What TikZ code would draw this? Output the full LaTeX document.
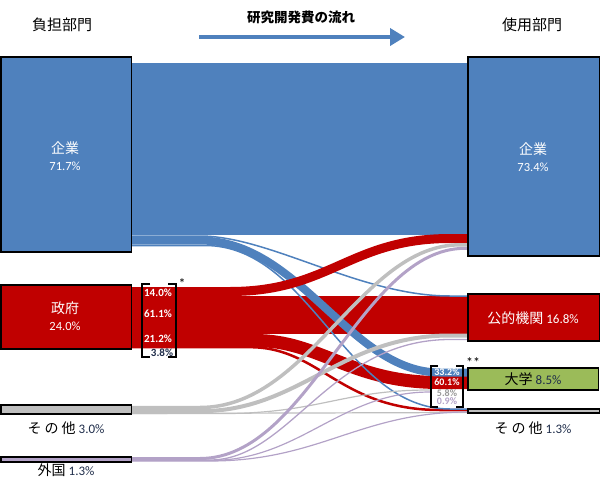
\documentclass[tikz,border=0pt]{standalone}
\usepackage{fontspec}
\newfontfamily\jp{Noto Sans CJK JP}
\newfontfamily\numf{Carlito}
\usetikzlibrary{arrows.meta}
\definecolor{cblue}{HTML}{4F81BD}
\definecolor{cred}{HTML}{C00000}
\definecolor{cgray}{HTML}{BFBFBF}
\definecolor{clav}{HTML}{B3A2C7}
\definecolor{cgreen}{HTML}{9BBB59}
\definecolor{cnavy}{HTML}{1F2D4A}
\newcommand\pcnt[1]{{\numf\fontsize{13}{13}\selectfont #1}}
\begin{document}
\begin{tikzpicture}[x=1pt,y=-1pt,
    box/.style={draw=black, line width=1.5pt},
    brk/.style={draw=black, line width=1.5pt},
    head/.style={font=\jp\fontsize{15}{15}\selectfont},
    lbl/.style={font=\jp\fontsize{14}{14}\selectfont, inner sep=0pt},
    num/.style={font=\numf\fontsize{12.5}{12.5}\selectfont, inner sep=0pt},
    share/.style={font=\numf\bfseries\fontsize{11}{11}\selectfont, inner sep=0pt, text height=7pt, text depth=0pt},
    ushare/.style={font=\numf\bfseries\fontsize{10}{10}\selectfont, inner sep=0pt, text height=6.5pt, text depth=0pt}]
    \useasboundingbox (0,0) rectangle (600,482);

    % headings and arrow
    \node[head] (hl) at (62,25) {負担部門};
    \node[head] (hr) at (532,25) {使用部門};
    \node[font=\jp\bfseries\fontsize{13.5}{13.5}\selectfont] (hm) at (301,17) {研究開発費の流れ};
    \draw[cblue, line width=4pt, -{Triangle[length=15pt,width=17pt]}] (199,37) -- (405,37);

    % flows
    \fill[cblue] (132,63) rectangle (468,235);
    \fill[cred] (132,296) rectangle (468,334);
    \draw[cred, line width=13pt] (132,340.5) -- (255,340.5) .. controls (320,340.5) and (350,382.5) .. (440,382.5) -- (468,382.5);
    \draw[cred, line width=2.5pt] (132,347.2) -- (250,347.2) .. controls (320,347.2) and (340,410) .. (440,410) -- (468,410);
    \draw[cblue, line width=1.5pt] (132,236) -- (200,236) .. controls (270,236) and (360,296) .. (450,296) -- (468,296);
    \draw[cblue, line width=8pt] (132,240.5) -- (200,240.5) .. controls (300,240.5) and (350,372.5) .. (440,372.5) -- (468,372.5);
    \draw[cblue, line width=1.5pt] (132,245.5) -- (205,245.5) .. controls (310,245.5) and (345,409) .. (450,409) -- (468,409);
    \draw[cred, line width=9pt] (132,291.5) -- (230,291.5) .. controls (330,291.5) and (350,238.5) .. (450,238.5) -- (468,238.5);
    \draw[cgray, line width=3.5pt] (132,407.5) -- (200,407.5) .. controls (310,407.5) and (360,244.8) .. (460,244.8) -- (468,244.8);
    \draw[cgray, line width=4pt] (132,411.2) -- (200,411.2) .. controls (300,411.2) and (340,335.5) .. (450,335.5) -- (468,335.5);
    \draw[cgray, line width=1.2pt] (132,413.6) -- (220,413.6) .. controls (320,413.6) and (340,390) .. (430,390);
    \draw[cgray, line width=1.2pt] (132,413.5) -- (468,412.5);
    \draw[clav, line width=3pt] (132,458.5) -- (200,458.5) .. controls (310,458.5) and (360,248.3) .. (465,248.3) -- (468,248.3);
    \draw[clav, line width=1.3pt] (132,460) -- (210,460) .. controls (290,460) and (330,339.5) .. (450,339.5) -- (468,339.5);
    \draw[clav, line width=1.2pt] (132,460.5) -- (210,460.5) .. controls (300,460.5) and (340,392) .. (430,392);
    \draw[clav, line width=1.2pt] (132,461) -- (210,461) .. controls (320,461) and (360,412) .. (468,412);

    % left boxes
    \draw[box, fill=cblue] (0.75,57) rectangle (131.5,252);
    \draw[box, fill=cred] (0.75,285) rectangle (131.5,349);
    \draw[box, fill=cgray] (0.75,405) rectangle (131.5,414);
    \draw[box, fill=clav] (0.75,457) rectangle (131.5,462);
    % right boxes
    \draw[box, fill=cblue] (468,57) rectangle (599.25,256);
    \draw[box, fill=cred] (468,294) rectangle (599.25,341);
    \draw[box, fill=cgreen] (468,368) rectangle (598.5,390);
    \draw[box, fill=cgray] (468,409) rectangle (599.25,413);

    % box labels
    \node[lbl, text=white] (lco) at (65,148) {企業};
    \node[num, text=white] (lcop) at (65,166) {71.7\%};
    \node[lbl, text=white] (lgov) at (65,308) {政府};
    \node[num, text=white] (lgovp) at (65,326) {24.0\%};
    \node[lbl] (loth) at (66,428) {そ\hspace{3pt}の\hspace{3pt}他 \pcnt{\color{cnavy}3.0\%}};
    \node[lbl] (lfor) at (66,470) {外国 \pcnt{\color{cnavy}1.3\%}};
    \node[lbl, text=white] (rco) at (533,149) {企業};
    \node[num, text=white] (rcop) at (533,167) {73.4\%};
    \node[lbl, text=white] (rpub) at (533,318) {公的機関 \pcnt{16.8\%}};
    \node[lbl] (runi) at (533,379) {大学 \pcnt{\color{cnavy}8.5\%}};
    \node[lbl] (roth) at (533,428) {そ\hspace{3pt}の\hspace{3pt}他 \pcnt{\color{cnavy}1.3\%}};

    % government shares
    \draw[brk] (150,284) -- (142,284) -- (142,357) -- (150,357);
    \draw[brk] (168,284) -- (176,284) -- (176,357) -- (168,357);
    \node[share, text=white] (g1) at (158,293) {14.0\%};
    \node[share, text=white] (g2) at (158,314) {61.1\%};
    \node[share, text=white] (g3) at (158,339) {21.2\%};
    \node[share, text=cnavy] (g4) at (162,353) {3.8\%};
    \node[font=\numf\fontsize{14}{14}\selectfont, inner sep=0pt] (st1) at (182,284) {*};

    % university shares
    \draw[brk] (438,366) -- (431,366) -- (431,407) -- (438,407);
    \draw[brk] (456,366) -- (463,366) -- (463,407) -- (456,407);
    \node[ushare, text=white] (u1) at (447,372.5) {33.2\%};
    \node[ushare, text=white] (u2) at (447,382) {60.1\%};
    \node[ushare, text=cgray!80!black] (u3) at (447,393) {5.8\%};
    \node[ushare, text=clav] (u4) at (447,401.5) {0.9\%};
    \node[font=\numf\fontsize{14}{14}\selectfont, inner sep=0pt] (st2) at (473,363) {**};
\end{tikzpicture}
\end{document}
